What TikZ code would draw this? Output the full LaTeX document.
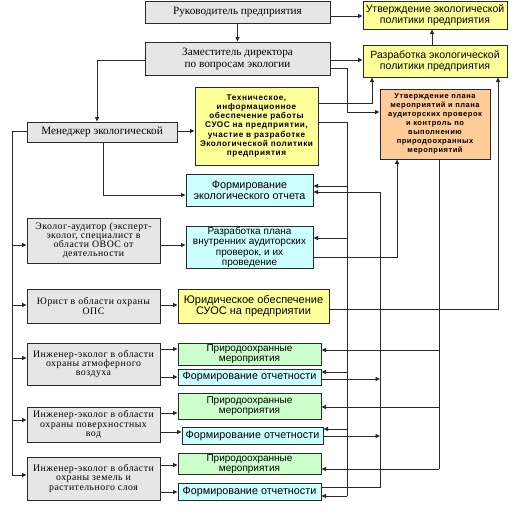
\documentclass[tikz,border=0pt]{standalone}
\usepackage{fontspec}
\setmainfont{Liberation Sans}
\newfontfamily\srf{Liberation Serif}
\newfontfamily\srsp[LetterSpace=5]{Liberation Serif}
\newfontfamily\sfsp[LetterSpace=7]{Liberation Sans}
\usetikzlibrary{arrows.meta}
\definecolor{lc}{HTML}{2A2A2A}
\definecolor{gfill}{HTML}{E6E6E6}
\definecolor{yfill}{HTML}{FFFF99}
\definecolor{cfill}{HTML}{CCFFFF}
\definecolor{gnfill}{HTML}{CCFFCC}
\definecolor{ofill}{HTML}{FFCC99}
\tikzset{
  box/.style={draw=lc, line width=1pt, inner sep=1pt, align=center, anchor=center},
  greybox/.style={box, fill=gfill, font=\srf\fontsize{11.2}{12}\selectfont},
  greysm/.style={box, fill=gfill, font=\srsp\fontsize{9.8}{9.2}\selectfont},
  ybox/.style={box, fill=yfill, font=\fontsize{10.5}{11}\selectfont},
  cbox/.style={box, fill=cfill, font=\fontsize{10}{10.3}\selectfont},
  gnbox/.style={box, fill=gnfill, font=\fontsize{10}{9.5}\selectfont},
  fbox/.style={box, fill=cfill, font=\fontsize{10.8}{11}\selectfont},
  boldsm/.style={font=\sfsp\bfseries\fontsize{8.2}{9.2}\selectfont},
  ln/.style={draw=lc, line width=0.8pt},
  arr/.style={ln, -{Triangle[length=4.5pt,width=4pt]}}
}
\begin{document}
\begin{tikzpicture}[x=1pt,y=-1pt]
\useasboundingbox[fill=white] (0,0) rectangle (516,514);
% top
\node[greybox, minimum width=185pt, minimum height=22pt] (ruk) at (237.5,12) {Руководитель предприятия};
\node[ybox, minimum width=144pt, minimum height=28pt] (utv) at (435,15) {Утверждение экологической\\политики предприятия};
\node[greybox, minimum width=185pt, minimum height=33pt] (zam) at (237.5,58.5) {Заместитель директора\\по вопросам экологии};
\node[ybox, minimum width=144pt, minimum height=32pt] (razr) at (435,61) {Разработка экологической\\политики предприятия};
\node[box, fill=yfill, boldsm, minimum width=123pt, minimum height=78pt] (tech) at (256.5,126) {Техническое,\\информационное\\обеспечение работы\\СУОС на предприятии,\\участие в разработке\\Экологической политики\\предприятия};
\node[box, fill=ofill, font=\sfsp\bfseries\fontsize{7.5}{9}\selectfont, minimum width=110pt, minimum height=70pt] (org) at (435,124) {Утверждение плана\\мероприятий и плана\\аудиторских проверок\\и контроль по\\выполнению\\природоохранных\\мероприятий};
\node[greybox, minimum width=150pt, minimum height=20pt] (men) at (102,132) {Менеджер экологической};
\node[cbox, font=\fontsize{10.8}{10.8}\selectfont, minimum width=127pt, minimum height=32pt] (form) at (249.5,190) {Формирование\\экологического отчета};
\node[greysm, minimum width=133pt, minimum height=45pt] (aud) at (93.5,240.5) {Эколог-аудитор (эксперт-\\эколог, специалист в\\области ОВОС от\\деятельности};
\node[cbox, minimum width=127pt, minimum height=41pt] (plan) at (249.5,247.5) {Разработка плана\\внутренних аудиторских\\проверок, и их\\проведение};
\node[greysm, minimum width=133pt, minimum height=34pt] (jur) at (93.5,306) {Юрист в области охраны\\ОПС};
\node[ybox, font=\fontsize{11}{11}\selectfont, minimum width=151pt, minimum height=34pt] (jurob) at (253.5,306) {Юридическое обеспечение\\СУОС на предприятии};
\node[greysm, minimum width=133pt, minimum height=42pt] (ing1) at (93.5,364) {Инженер-эколог в области\\охраны атмоферного\\воздуха};
\node[gnbox, minimum width=143pt, minimum height=22pt] (p1) at (249.5,354) {Природоохранные\\мероприятия};
\node[fbox, minimum width=143pt, minimum height=16pt] (f1) at (249.5,377) {Формирование отчетности};
\node[greysm, minimum width=133pt, minimum height=35pt] (ing2) at (93.5,424.5) {Инженер-эколог в области\\охраны поверхностных\\вод};
\node[gnbox, minimum width=143pt, minimum height=26pt] (p2) at (249.5,406) {Природоохранные\\мероприятия};
\node[fbox, minimum width=141pt, minimum height=17pt] (f2) at (252.5,435.5) {Формирование отчетности};
\node[greysm, minimum width=133pt, minimum height=43pt] (ing3) at (93.5,478.5) {Инженер-эколог в области\\охраны земель и\\растительного слоя};
\node[gnbox, minimum width=143pt, minimum height=20pt] (p3) at (249.5,464) {Природоохранные\\мероприятия};
\node[fbox, minimum width=143pt, minimum height=17pt] (f3) at (249.5,491.5) {Формирование отчетности};
% bus coordinates
\coordinate (bL) at (12,0);
\coordinate (bA) at (347,0);
\coordinate (bB) at (380,0);
\coordinate (bC) at (439,0);
\coordinate (bD) at (498,0);
% top connectors
\draw[arr] (ruk.east |- 0,16) -- (utv.west |- 0,16);
\draw[arr] (ruk.south) -- (zam.north);
\draw[arr] (zam.east |- 0,60) -- (razr.west |- 0,60);
\draw[arr] ([xshift=-3pt]razr.north) -- ([xshift=-3pt]utv.south);
\draw[arr] (zam.east |- 0,68) -| (bA |- 0,112) -- (org.west |- 0,112);
\draw[arr] (zam.west |- 0,60) -| (97,0 |- men.north);
\draw[arr] (men.east |- 0,131) -- (tech.west |- 0,131);
\draw[arr] (men.south -| 103,0) |- (form.west |- 0,195);
\draw[arr] (tech.east |- 0,103) -| (razr.south -| 372,0);
\draw[arr] (jurob.east |- 0,309) -| (bD |- razr.south);
% bus A (from tech)
\draw[ln] (tech.east |- 0,122) -| (bA |- 0,496);
\draw[arr] (bA |- 0,186) -- (form.east |- 0,186);
\draw[arr] (bA |- 0,238) -- (plan.east |- 0,238);
\draw[arr] (bA |- 0,372) -- (f1.east |- 0,372);
\draw[arr] (bA |- 0,429) -- (f2.east |- 0,429);
\draw[arr] (bA |- 0,496) -- (f3.east |- 0,496);
% bus B (reports up to form)
\draw[arr] (f3.east |- 0,487) -| (bB |- 0,192) -- (form.east |- 0,192);
\draw[arr] (f1.east |- 0,379) -- (bB |- 0,379);
\draw[arr] (f2.east |- 0,436) -- (bB |- 0,436);
% plan -> orange
\draw[arr] (plan.east |- 0,257) -| (org.south -| 397,0);
% bus C (from orange)
\draw[ln] (org.south -| bC) -- (bC |- 0,469);
\draw[arr] (bC |- 0,350) -- (p1.east |- 0,350);
\draw[arr] (bC |- 0,407) -- (p2.east |- 0,407);
\draw[arr] (bC |- 0,469) -- (p3.east |- 0,469);
% left bus
\draw[ln] (men.west |- 0,131) -| (bL |- 0,475);
\draw[arr] (bL |- 0,245) -- (aud.west |- 0,245);
\draw[arr] (bL |- 0,305) -- (jur.west |- 0,305);
\draw[arr] (bL |- 0,358) -- (ing1.west |- 0,358);
\draw[arr] (bL |- 0,420) -- (ing2.west |- 0,420);
\draw[arr] (bL |- 0,475) -- (ing3.west |- 0,475);
% left to right
\draw[arr] (aud.east |- 0,245) -- (plan.west |- 0,245);
\draw[arr] (jur.east |- 0,305) -- (jurob.west |- 0,305);
\draw[arr] (ing1.east |- 0,349) -- (p1.west |- 0,349);
\draw[arr] (ing1.east |- 0,377) -- (f1.west |- 0,377);
\draw[arr] (ing2.east |- 0,413) -- (p2.west |- 0,413);
\draw[arr] (ing2.east |- 0,432) -- (f2.west |- 0,432);
\draw[arr] (ing3.east |- 0,465) -- (p3.west |- 0,465);
\draw[arr] (ing3.east |- 0,492) -- (f3.west |- 0,492);
\end{tikzpicture}
\end{document}
